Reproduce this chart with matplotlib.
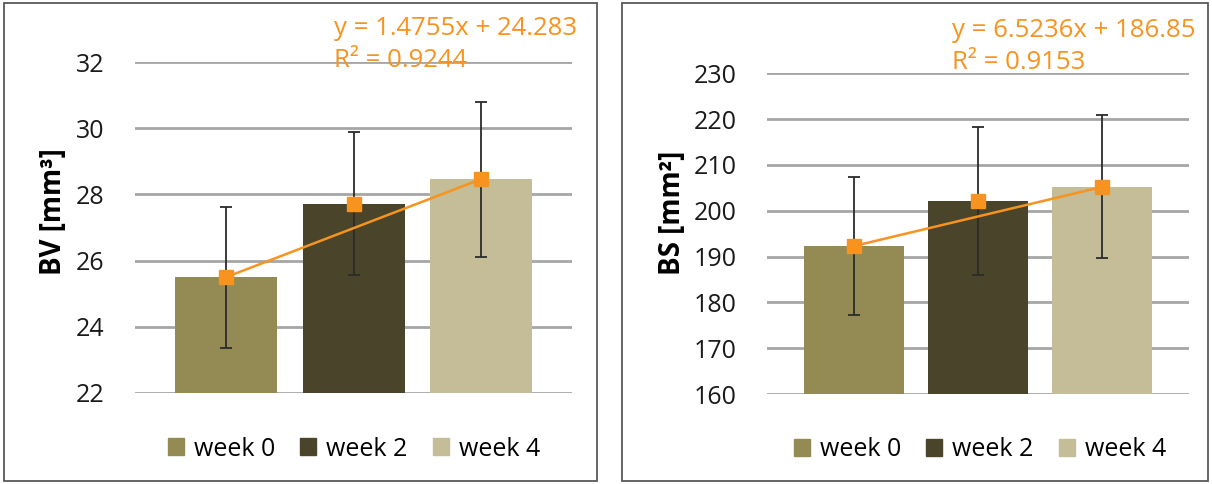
import matplotlib
matplotlib.use("Agg")
import matplotlib.pyplot as plt
import matplotlib.patches as mpatches
import numpy as np

plt.rcParams['font.family'] = ['Open Sans', 'DejaVu Sans']

weeks = ["week 0", "week 2", "week 4"]
bar_colors = ["#948A54", "#4A452A", "#C4BD97"]

bv_mean = [25.5, 27.72, 28.46]
bv_sd = [2.13, 2.16, 2.34]
bv_fit = "y = 1.4755x + 24.283\nR² = 0.9244"

bs_mean = [192.3, 202.1, 205.2]
bs_sd = [15.1, 16.2, 15.6]
bs_fit = "y = 6.5236x + 186.85\nR² = 0.9153"

ORANGE = "#F7931E"
W, H = 1212, 484

fig = plt.figure(figsize=(W / 100, H / 100), dpi=100, facecolor="white")


def fx(px):
    return px / W


def fy(px):
    return 1 - px / H


def panel(rect, mean, sd, ylim, step, slot_px, fit_text, fit_xy, frame, leg_xy):
    ax = fig.add_axes(rect)
    x = np.arange(1, len(mean) + 1)
    ax.bar(x, mean, width=0.8, color=bar_colors, zorder=2)
    ax.errorbar(x, mean, yerr=sd, fmt="none", ecolor="#2b2b2b", elinewidth=1.3,
                capsize=4.5, capthick=1.3, zorder=3)
    # first-to-last segment plus the week markers
    ax.plot([x[0], x[-1]], [mean[0], mean[-1]], color=ORANGE, lw=1.8, zorder=4)
    ax.plot(x, mean, ls="none", marker="s", ms=10.5, color=ORANGE, zorder=5)

    ax.set_ylim(*ylim)
    ax.set_yticks(np.arange(ylim[0], ylim[1] + step / 2, step))
    span = ax.get_position().width * W / slot_px
    ax.set_xlim(2 - span / 2, 2 + span / 2)
    ax.set_xticks([])
    ax.yaxis.grid(True, color="#A6A6A6", lw=2, zorder=0)
    for s in ax.spines.values():
        s.set_visible(False)
    ax.tick_params(axis="y", length=0, pad=22, labelsize=18, labelcolor="#1a1a1a")

    fig.text(fx(fit_xy[0]), fy(fit_xy[1]), fit_text, color=ORANGE, fontsize=18.5,
             ha="left", va="top", linespacing=1.38)

    handles = [mpatches.Patch(color=c, label=w) for c, w in zip(bar_colors, weeks)]
    fig.legend(handles=handles, loc="center", bbox_to_anchor=(fx(leg_xy[0]), fy(leg_xy[1])),
               ncol=3, frameon=False, fontsize=18, handlelength=0.65, handleheight=0.65,
               handletextpad=0.4, columnspacing=1.0)

    fig.add_artist(mpatches.Rectangle((fx(frame[0]), fy(frame[3])),
                                      fx(frame[2] - frame[0]), (frame[3] - frame[1]) / H,
                                      transform=fig.transFigure, fill=False,
                                      edgecolor="#595959", lw=1.3))
    return ax


ax1 = panel([fx(135), fy(393), fx(572 - 135), (393 - 62) / H],
            bv_mean, bv_sd, (22, 32), 2, 127.5, bv_fit, (334, 16),
            (4, 3, 597, 481), (354, 449))
fig.text(fx(53), fy(212), "BV [mm³]", rotation=90, ha="center", va="center",
         fontsize=20, fontweight="bold")

ax2 = panel([fx(767), fy(394), fx(1189 - 767), (394 - 73.3) / H],
            bs_mean, bs_sd, (160, 230), 10, 124, bs_fit, (952, 18),
            (622, 3, 1208, 481), (980, 450))
fig.text(fx(672), fy(213), "BS [mm²]", rotation=90, ha="center", va="center",
         fontsize=20, fontweight="bold")

fig.savefig("out.png", dpi=100)
